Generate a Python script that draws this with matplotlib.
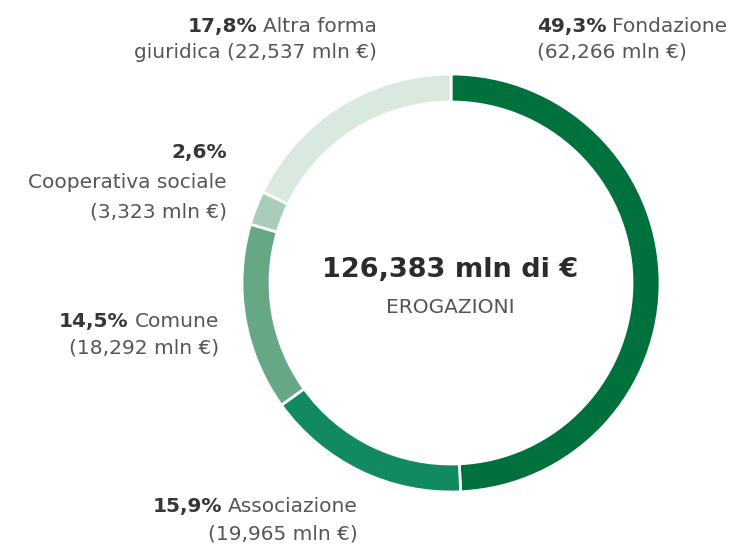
import matplotlib
matplotlib.use('Agg')
import matplotlib.pyplot as plt

# dati erogazioni per forma giuridica (mln €)
categorie = ['Fondazione', 'Associazione', 'Comune', 'Cooperativa sociale', 'Altra forma giuridica']
valori = [62.266, 19.965, 18.292, 3.323, 22.537]
percentuali = ['49,3%', '15,9%', '14,5%', '2,6%', '17,8%']
importi = ['(62,266 mln €)', '(19,965 mln €)', '(18,292 mln €)', '(3,323 mln €)', '(22,537 mln €)']
colori = ['#00703c', '#118a60', '#66a886', '#a9cdb9', '#d9e9df']
totale = '126,383 mln di €'

plt.rcParams['font.family'] = ['DejaVu Sans']

W, H = 735, 547
fig = plt.figure(figsize=(W / 100, H / 100), dpi=100)
ax = fig.add_axes([0, 0, 1, 1])

cx, cy, r = 451, H - 283, 209
ax.pie(valori, colors=colori, startangle=90, counterclock=False,
       center=(cx, cy), radius=r, frame=True,
       wedgeprops=dict(width=28, edgecolor='white', linewidth=2))
ax.set_xlim(0, W)
ax.set_ylim(0, H)
ax.set_aspect('equal')
ax.axis('off')

renderer = fig.canvas.get_renderer()
FS = 14.5
C_BOLD = '#363636'
C_NORM = '#555555'


def riga(x, y, grassetto, testo, ha):
    # una riga con prefisso in grassetto e resto normale
    y = H - y
    if ha == 'left':
        t1 = ax.text(x, y, grassetto, fontsize=FS, fontweight='bold', color=C_BOLD, va='baseline', ha='left')
        e = t1.get_window_extent(renderer)
        ax.text(e.x1 + 6, y, testo, fontsize=FS, color=C_NORM, va='baseline', ha='left')
    else:
        t2 = ax.text(x, y, testo, fontsize=FS, color=C_NORM, va='baseline', ha='right')
        e = t2.get_window_extent(renderer)
        ax.text(e.x0 - 6, y, grassetto, fontsize=FS, fontweight='bold', color=C_BOLD, va='baseline', ha='right')


def normale(x, y, testo, ha):
    ax.text(x, H - y, testo, fontsize=FS, color=C_NORM, va='baseline', ha=ha)


# Fondazione
riga(537, 32, percentuali[0], 'Fondazione', 'left')
normale(537, 58, importi[0], 'left')
# Associazione
riga(358, 512, percentuali[1], 'Associazione', 'right')
normale(358, 539, importi[1], 'right')
# Comune
riga(219, 327, percentuali[2], 'Comune', 'right')
normale(219, 354, importi[2], 'right')
# Cooperativa sociale
ax.text(227, H - 158, percentuali[3], fontsize=FS, fontweight='bold', color=C_BOLD, va='baseline', ha='right')
normale(227, 188, 'Cooperativa sociale', 'right')
normale(227, 217, importi[3], 'right')
# Altra forma giuridica
riga(377, 32, percentuali[4], 'Altra forma', 'right')
normale(377, 58, 'giuridica ' + importi[4], 'right')

# testo centrale
ax.text(450, H - 277, totale, fontsize=19.5, fontweight='bold', color='#2b2b2b', va='baseline', ha='center')
ax.text(450, H - 313, 'EROGAZIONI', fontsize=14.5, color=C_NORM, va='baseline', ha='center')

fig.savefig('out.png', dpi=100, facecolor='white')
